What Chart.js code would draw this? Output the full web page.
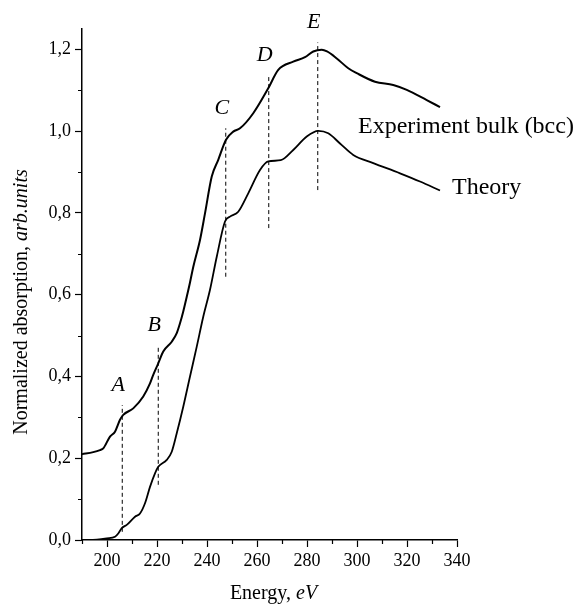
<!DOCTYPE html>
<html>
<head>
<meta charset="utf-8">
<script src="https://cdn.jsdelivr.net/npm/chart.js@4.4.0/dist/chart.umd.min.js"></script>
<style>
  html, body { margin: 0; padding: 0; background: #fff; }
  #wrap { width: 582px; height: 605px; }
</style>
</head>
<body>
<div id="wrap"><canvas id="xas" width="582" height="605"></canvas></div>
<script>
// measured spectrum, experiment (bulk bcc)
const expEnergy = [190, 194.5, 197.2, 198.5, 201.2, 203.2, 205.2, 206.5, 210.5, 214.5, 217.2, 218.5,
  220.5, 222.5, 225.9, 227.9, 229.2, 230.5, 231.9, 233.2, 234.5, 237.2, 239.2, 241.9, 244.5, 247.6,
  250.5, 253.2, 258.5, 264.5, 268.5, 274.5, 279.2, 282.5, 285.9, 288, 291.9, 296.5, 299.9, 307.2,
  314.5, 319.9, 327.9, 333.2];
const expAbs = [0.210, 0.215, 0.220, 0.224, 0.253, 0.265, 0.294, 0.306, 0.322, 0.351, 0.383, 0.404,
  0.432, 0.461, 0.485, 0.506, 0.530, 0.559, 0.595, 0.630, 0.668, 0.734, 0.799, 0.889, 0.930, 0.979,
  0.999, 1.007, 1.044, 1.105, 1.150, 1.170, 1.181, 1.195, 1.199, 1.195, 1.178, 1.154, 1.142, 1.121,
  1.113, 1.101, 1.076, 1.059];

// calculated spectrum
const theoryEnergy = [190, 196, 199.9, 203.2, 204.5, 205.9, 207.9, 211.2, 213.2, 215.2, 217.2, 219.2,
  220.5, 223.9, 225.9, 227.9, 230.5, 233.2, 235.9, 238.5, 241.2, 243.9, 247.2, 249.2, 252.5, 256.5,
  261.2, 264.5, 269.5, 274.5, 279.9, 284.5, 288.5, 293.2, 298.5, 306.5, 317.2, 325.2, 333.2];
const theoryAbs = [0.000, 0.001, 0.004, 0.008, 0.016, 0.029, 0.037, 0.057, 0.065, 0.090, 0.130, 0.163,
  0.179, 0.196, 0.216, 0.261, 0.326, 0.400, 0.473, 0.546, 0.612, 0.693, 0.779, 0.791, 0.803, 0.848,
  0.905, 0.926, 0.929, 0.954, 0.987, 1.001, 0.995, 0.970, 0.942, 0.922, 0.897, 0.877, 0.855];

// spectral features A..E (dashed markers)
const featureNames = ['A', 'B', 'C', 'D', 'E'];
const featureEnergy = [206.1, 220.5, 247.5, 264.7, 284.3];
const featureTop = [0.33, 0.477, 1.007, 1.138, 1.217];
const featureBottom = [0.02, 0.135, 0.644, 0.763, 0.856];

const xMajorTicks = [200, 220, 240, 260, 280, 300, 320, 340];
const yMajorTicks = [0, 0.2, 0.4, 0.6, 0.8, 1.0, 1.2];

const serif = '"Liberation Serif", "Times New Roman", serif';

function toPoints(xs, ys) {
  return xs.map((x, i) => ({ x: x, y: ys[i] }));
}

const datasets = [
  {
    label: 'Experiment bulk (bcc)',
    data: toPoints(expEnergy, expAbs),
    borderColor: '#000',
    borderWidth: 2,
    pointRadius: 0,
    cubicInterpolationMode: 'monotone'
  },
  {
    label: 'Theory',
    data: toPoints(theoryEnergy, theoryAbs),
    borderColor: '#000',
    borderWidth: 1.8,
    pointRadius: 0,
    cubicInterpolationMode: 'monotone'
  }
];

featureNames.forEach((name, i) => {
  datasets.push({
    label: name,
    data: [{ x: featureEnergy[i], y: featureBottom[i] }, { x: featureEnergy[i], y: featureTop[i] }],
    borderColor: '#000',
    borderWidth: 1,
    borderDash: [4, 3],
    pointRadius: 0
  });
});

// text, minor ticks and axis titles drawn on top
const annotations = {
  id: 'annotations',
  afterDraw(chart) {
    const ctx = chart.ctx;
    const xs = chart.scales.x;
    const ys = chart.scales.y;
    const area = chart.chartArea;
    ctx.save();
    ctx.fillStyle = '#000';
    ctx.strokeStyle = '#000';

    // minor ticks
    ctx.lineWidth = 1.2;
    ctx.beginPath();
    for (let v = 190; v <= 340; v += 10) {
      if (v % 20 === 0) continue;
      const px = Math.round(xs.getPixelForValue(v)) + 0.5;
      ctx.moveTo(px, area.bottom);
      ctx.lineTo(px, area.bottom + 4);
    }
    for (let k = 1; k <= 11; k += 2) {
      const py = Math.round(ys.getPixelForValue(k / 10)) + 0.5;
      ctx.moveTo(area.left, py);
      ctx.lineTo(area.left - 4, py);
    }
    ctx.stroke();

    // feature letters
    ctx.font = 'italic 22px ' + serif;
    ctx.textAlign = 'center';
    ctx.textBaseline = 'middle';
    featureNames.forEach((name, i) => {
      const px = xs.getPixelForValue(featureEnergy[i]);
      const py = ys.getPixelForValue(featureTop[i]);
      ctx.fillText(name, px - 4, py - 20);
    });

    // curve labels
    ctx.font = '24px ' + serif;
    ctx.textAlign = 'left';
    const expEndX = xs.getPixelForValue(expEnergy[expEnergy.length - 1]);
    const expEndY = ys.getPixelForValue(expAbs[expAbs.length - 1]);
    ctx.fillText('Experiment bulk (bcc)', expEndX - 82, expEndY + 20);
    const thEndX = xs.getPixelForValue(theoryEnergy[theoryEnergy.length - 1]);
    const thEndY = ys.getPixelForValue(theoryAbs[theoryAbs.length - 1]);
    ctx.fillText('Theory', thEndX + 12, thEndY - 3);

    // x axis title
    ctx.textBaseline = 'alphabetic';
    ctx.font = '20px ' + serif;
    const xa = 'Energy, ';
    const wa = ctx.measureText(xa).width;
    ctx.font = 'italic 20px ' + serif;
    const xb = 'eV';
    const wb = ctx.measureText(xb).width;
    let tx = (area.left + area.right) / 2 + 4 - (wa + wb) / 2;
    ctx.font = '20px ' + serif;
    ctx.fillText(xa, tx, 599);
    ctx.font = 'italic 20px ' + serif;
    ctx.fillText(xb, tx + wa, 599);

    // y axis title
    ctx.translate(27, 302);
    ctx.rotate(-Math.PI / 2);
    ctx.font = '20px ' + serif;
    const ya = 'Normalized absorption, ';
    const wya = ctx.measureText(ya).width;
    ctx.font = 'italic 20px ' + serif;
    const yb = 'arb.units';
    const wyb = ctx.measureText(yb).width;
    const ty = -(wya + wyb) / 2;
    ctx.font = '20px ' + serif;
    ctx.fillText(ya, ty, 0);
    ctx.font = 'italic 20px ' + serif;
    ctx.fillText(yb, ty + wya, 0);

    ctx.restore();
  }
};

new Chart(document.getElementById('xas').getContext('2d'), {
  type: 'line',
  data: { datasets: datasets },
  options: {
    responsive: false,
    animation: false,
    layout: { padding: { top: 29, right: 125, bottom: 0, left: 0 } },
    plugins: {
      legend: { display: false },
      tooltip: { enabled: false }
    },
    scales: {
      x: {
        type: 'linear',
        min: 190,
        max: 340,
        afterFit(scale) { scale.height = 65; },
        afterBuildTicks(scale) { scale.ticks = xMajorTicks.map(v => ({ value: v })); },
        ticks: {
          color: '#000',
          font: { family: serif, size: 18 },
          padding: 3,
          maxRotation: 0,
          callback: v => String(v)
        },
        grid: { drawOnChartArea: false, drawTicks: true, tickLength: 7, color: '#000', tickWidth: 1.2 },
        border: { display: true, color: '#000', width: 1.5 }
      },
      y: {
        min: 0,
        max: 1.25,
        afterFit(scale) { scale.width = 82; },
        afterBuildTicks(scale) { scale.ticks = yMajorTicks.map(v => ({ value: v })); },
        ticks: {
          color: '#000',
          font: { family: serif, size: 18 },
          padding: 4,
          callback: v => v.toFixed(1).replace('.', ',')
        },
        grid: { drawOnChartArea: false, drawTicks: true, tickLength: 7, color: '#000', tickWidth: 1.2 },
        border: { display: true, color: '#000', width: 1.5 }
      }
    }
  },
  plugins: [annotations]
});
</script>
</body>
</html>
